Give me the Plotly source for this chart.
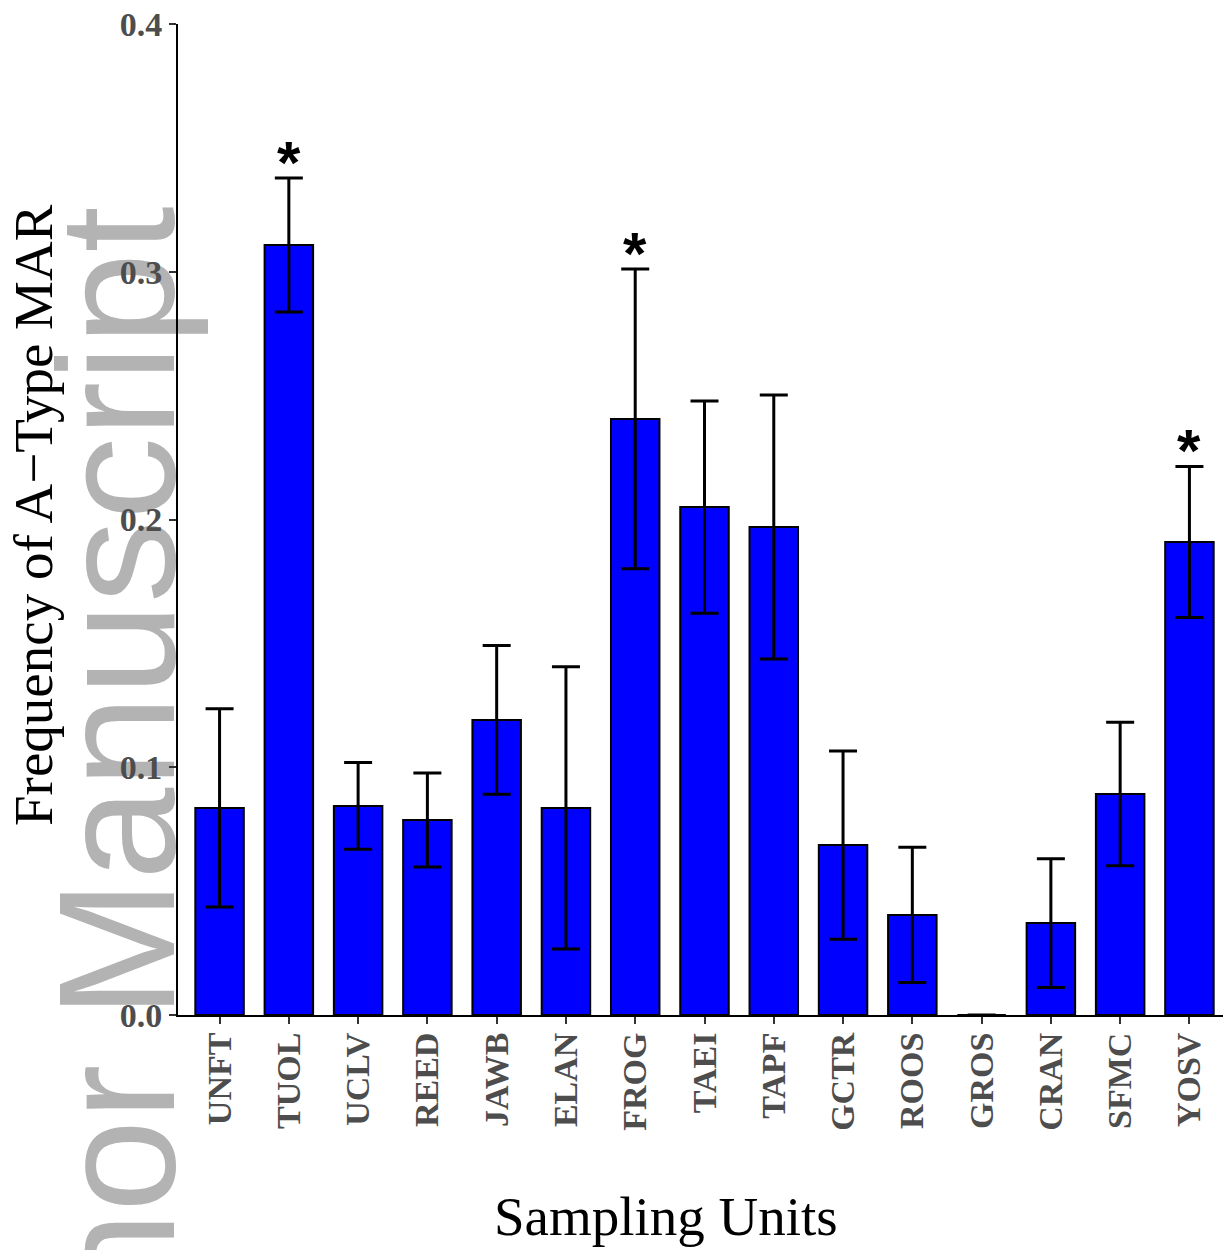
import plotly.graph_objects as go

# ---- data ----
sites = ["UNFT", "TUOL", "UCLV", "REED", "JAWB", "ELAN", "FROG", "TAEI",
         "TAPF", "GCTR", "ROOS", "GROS", "CRAN", "SFMC", "YOSV"]
freq = [0.0836, 0.3108, 0.0844, 0.0787, 0.1191, 0.0836, 0.2406, 0.2050,
        0.1970, 0.0686, 0.0404, 0.0, 0.0371, 0.0892, 0.1909]
err = [0.0400, 0.0270, 0.0175, 0.0190, 0.0300, 0.0570, 0.0605, 0.0428,
       0.0533, 0.0380, 0.0273, 0.0, 0.0260, 0.0290, 0.0305]
sig = [False, True, False, False, False, False, True, False,
       False, False, False, False, False, False, True]
y_ticks = [0.0, 0.1, 0.2, 0.3, 0.4]
y_tick_text = ["0.0", "0.1", "0.2", "0.3", "0.4"]

# page offset of the figure (default body margin)
OFF = 8
W, H = 1231 - OFF, 1250 - OFF
ML, MR, MT = 178 - OFF, 0, 24 - OFF
MB = H - (1015 - OFF)
PW = W - ML - MR
PH = H - MT - MB


def px_x(p):
    """page pixel x -> paper coordinate"""
    return (p - OFF - ML) / PW


def px_y(p):
    """page pixel y -> paper coordinate"""
    return (H - MB - (p - OFF)) / PH


fig = go.Figure()
fig.add_trace(go.Bar(
    x=sites, y=freq, width=0.7,
    marker=dict(color="#0000FF", line=dict(color="black", width=2)),
    error_y=dict(type="data", array=err, visible=True, color="black",
                 thickness=3, width=14),
    showlegend=False,
))

# significance asterisks
for s, v, e, flag in zip(sites, freq, err, sig):
    if flag:
        fig.add_annotation(x=s, y=v + e, xref="x", yref="y", text="*",
                           showarrow=False, yanchor="bottom", yshift=-20,
                           font=dict(family="Liberation Sans", size=60, color="black",
                                     weight="bold"))

# axis titles
fig.add_annotation(x=px_x(33), y=px_y(515), xref="paper", yref="paper",
                   text="Frequency of A\u2212Type MAR", textangle=-90, showarrow=False,
                   xanchor="center", yanchor="middle",
                   font=dict(family="Liberation Serif", size=55, color="black"))
fig.add_annotation(x=px_x(666), y=px_y(1216), xref="paper", yref="paper",
                   text="Sampling Units", showarrow=False,
                   xanchor="center", yanchor="middle",
                   font=dict(family="Liberation Serif", size=55, color="black"))

# watermark (drawn beneath everything)
cx, cy = 100, 880
fig.add_shape(type="rect", xref="paper", yref="paper",
              x0=px_x(cx - 5), x1=px_x(cx + 5), y0=px_y(cy + 5), y1=px_y(cy - 5),
              line=dict(width=0), fillcolor="rgba(0,0,0,0)", layer="below",
              label=dict(text="Author Manuscript", textangle=-90,
                         textposition="middle center",
                         font=dict(family="Liberation Sans", size=166, color="#b3b3b3")))

fig.update_layout(
    width=W, height=H,
    margin=dict(l=ML, r=MR, t=MT, b=MB, autoexpand=False),
    paper_bgcolor="white", plot_bgcolor="rgba(0,0,0,0)",
    bargap=0.3,
    xaxis=dict(type="category", range=[-0.6, 14.6], showgrid=False,
               showline=True, linecolor="black", linewidth=2,
               ticks="outside", ticklen=7, tickwidth=2, tickcolor="#333333",
               tickangle=-90, ticklabelstandoff=-5, automargin=False,
               ticklabeloverflow="allow",
               tickfont=dict(family="Liberation Serif", size=34, color="#4d4d4d",
                             weight="bold")),
    yaxis=dict(range=[0, 0.4], tickvals=y_ticks, ticktext=y_tick_text,
               showgrid=False, zeroline=False, automargin=False,
               showline=True, linecolor="black", linewidth=2,
               ticks="outside", ticklen=7, tickwidth=2, tickcolor="#333333",
               ticklabeloverflow="allow",
               tickfont=dict(family="Liberation Serif", size=34, color="#4d4d4d",
                             weight="bold")),
)

fig.write_html("out.html")
